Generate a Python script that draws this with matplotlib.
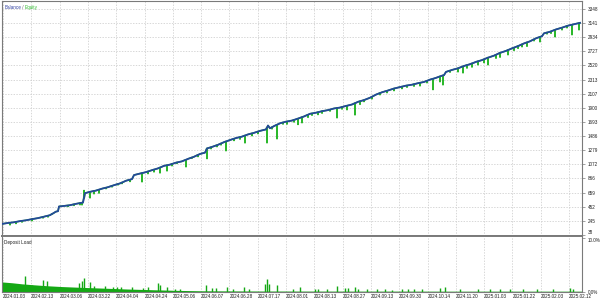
import numpy as np
import matplotlib
matplotlib.use("Agg")
import matplotlib.pyplot as plt

# ---------------- data ----------------
balance_x = [0, 6, 12, 18, 24, 30, 36, 42, 48, 54, 56, 57, 62, 68, 74, 80, 81, 83, 88, 94,
             100, 106, 112, 118, 124, 130, 132, 138, 144, 150, 156, 162, 168, 174, 180, 186,
             192, 198, 203, 205, 210, 216, 222, 228, 234, 240, 246, 252, 258, 264, 266, 268,
             272, 278, 284, 290, 296, 302, 308, 314, 320, 326, 332, 338, 344, 350, 356, 362,
             368, 374, 380, 386, 392, 398, 404, 410, 416, 422, 428, 434, 440, 442, 444, 450,
             456, 462, 468, 474, 480, 486, 492, 498, 504, 510, 516, 522, 528, 534, 540, 542,
             548, 554, 560, 566, 572, 578]
balance = [200, 214, 224, 241, 253, 270, 285, 306, 328, 380, 386, 455, 463, 474, 494, 510, 513,
           650, 670, 688, 716, 738, 767, 793, 832, 856, 915, 937, 958, 987, 1013, 1050, 1068,
           1097, 1116, 1152, 1183, 1224, 1243, 1305, 1327, 1358, 1397, 1428, 1457, 1478, 1510,
           1533, 1562, 1583, 1640, 1600, 1632, 1673, 1697, 1713, 1742, 1773, 1812, 1828, 1850,
           1866, 1890, 1903, 1927, 1948, 1987, 2013, 2047, 2093, 2127, 2153, 2182, 2203, 2224,
           2238, 2260, 2278, 2312, 2338, 2370, 2378, 2425, 2454, 2478, 2512, 2538, 2572, 2598,
           2634, 2663, 2704, 2733, 2770, 2803, 2842, 2873, 2917, 2948, 2990, 3013, 3047, 3073,
           3102, 3123, 3143]

# equity lows (trade index, equity value)
equity_dip_x = [8, 14, 20, 30, 41, 46, 50, 66, 72, 78, 80, 82, 88, 92, 97, 104, 110, 116, 120,
                128, 140, 146, 152, 158, 165, 170, 175, 184, 190, 196, 205, 209, 215, 219, 224,
                232, 238, 243, 250, 256, 265, 270, 275, 281, 285, 292, 296, 300, 306, 310, 316,
                320, 328, 335, 340, 345, 353, 358, 362, 370, 378, 385, 392, 400, 405, 412, 418,
                425, 431, 438, 441, 448, 456, 461, 465, 470, 476, 482, 486, 494, 498, 506, 512,
                516, 520, 525, 532, 538, 545, 549, 553, 560, 565, 570, 577]
equity_dip = [185, 205, 225, 245, 285, 300, 340, 455, 470, 480, 478, 690, 580, 640, 650, 715,
              740, 770, 790, 820, 815, 935, 960, 945, 975, 1050, 1085, 1035, 1160, 1185, 1155,
              1300, 1330, 1355, 1270, 1420, 1440, 1385, 1490, 1520, 1386, 1590, 1445, 1660,
              1660, 1690, 1655, 1680, 1760, 1790, 1800, 1820, 1850, 1752, 1880, 1870, 1795,
              1950, 1990, 2030, 2090, 2120, 2150, 2180, 2200, 2215, 2220, 2265, 2165, 2280,
              2235, 2420, 2425, 2410, 2480, 2495, 2528, 2560, 2528, 2625, 2640, 2675, 2740,
              2770, 2792, 2800, 2880, 2865, 2980, 2990, 2938, 3040, 3070, 2968, 3040]

# deposit load (%) base level and spikes
load_x = [0, 10, 20, 30, 45, 60, 80, 100, 125, 150, 175, 200, 230, 260, 300, 350, 400, 450,
          500, 550, 580]
load_base = [1.85, 1.7, 1.5, 1.35, 1.15, 1.0, 0.85, 0.72, 0.55, 0.42, 0.3, 0.22, 0.2, 0.18,
             0.17, 0.16, 0.16, 0.15, 0.15, 0.15, 0.15]
spike_x = [23, 30, 41, 45, 77, 80, 82, 88, 92, 103, 111, 115, 119, 130, 141, 146, 156, 158,
           165, 173, 178, 204, 210, 214, 225, 231, 242, 247, 263, 265, 267, 275, 291, 298,
           313, 316, 325, 335, 343, 346, 353, 356, 365, 375, 383, 390, 400, 406, 412, 420,
           438, 443, 458, 476, 488, 498, 508, 521, 535, 551, 568, 571]
spike = [3.0, 1.2, 2.2, 2.0, 1.6, 2.0, 2.5, 1.9, 1.1, 1.1, 0.95, 0.95, 0.95, 0.9, 0.8, 0.85,
         1.6, 1.2, 1.0, 0.6, 0.5, 1.3, 0.8, 0.7, 1.0, 0.5, 1.0, 0.6, 1.4, 2.3, 1.5, 1.2,
         0.5, 1.0, 0.5, 0.5, 0.5, 1.1, 0.7, 0.8, 1.0, 0.6, 0.5, 0.5, 0.6, 0.4, 0.5, 0.5,
         0.5, 0.5, 0.8, 0.9, 0.5, 0.6, 0.5, 0.5, 0.5, 0.5, 0.5, 0.5, 0.8, 0.5]

y_ticks = [38, 245, 452, 659, 866, 1072, 1279, 1486, 1693, 1900, 2107, 2313, 2520, 2727,
           2934, 3141, 3348]
date_labels = ["2024.01.03", "2024.02.13", "2024.03.06", "2024.03.22", "2024.04.04",
               "2024.04.24", "2024.05.06", "2024.06.07", "2024.06.28", "2024.07.17",
               "2024.08.01", "2024.08.13", "2024.08.27", "2024.09.13", "2024.09.30",
               "2024.10.14", "2024.11.20", "2025.01.03", "2025.01.22", "2025.02.03",
               "2025.02.12"]

# ---------------- build equity path ----------------
bx = np.array(balance_x, float)
by = np.array(balance, float)
ex = list(bx)
ey = list(by)
for x, v in zip(equity_dip_x, equity_dip):
    b = np.interp(x, bx, by)
    ex += [x - 0.3, x, x + 0.3]
    ey += [b, min(v, b) if x != 82 else v, b]
order = np.argsort(ex, kind="stable")
ex = np.array(ex)[order]
ey = np.array(ey)[order]

# ---------------- figure ----------------
W, H = 600, 303
fig = plt.figure(figsize=(W / 100, H / 100), dpi=100)
fig.patch.set_facecolor("white")

FONT = dict(family="Liberation Sans", size=3.3, color="#202020")
grid_kw = dict(color="#c8c8c8", lw=0.5, ls=(0, (2, 2)))
border = "#7a7a7a"

def px_rect(x0, y0, x1, y1):
    return [x0 / W, 1 - y1 / H, (x1 - x0) / W, (y1 - y0) / H]

ax = fig.add_axes(px_rect(2, 1, 582, 236))
axl = fig.add_axes(px_rect(2, 236, 582, 292))

xticks = [1 + 28.3 * i for i in range(len(date_labels))]
XMAX = 580

# main panel
ax.set_xlim(0, XMAX)
ax.set_ylim(23, 3463)
for t in y_ticks:
    ax.axhline(t, **grid_kw, zorder=0)
for t in xticks:
    ax.axvline(t, **grid_kw, zorder=0)
ax.plot(ex, ey, color="#2cb82c", lw=1.1, zorder=2)
ax.plot(bx, by, color="#24489a", lw=1.3, zorder=3, solid_joinstyle="round")
ax.yaxis.tick_right()
ax.set_yticks(y_ticks)
ax.set_yticklabels([str(t) for t in y_ticks], fontdict=FONT)
ax.get_yticklabels()[0].set_va("bottom")
ax.tick_params(axis="y", length=2, width=0.5, color=border, pad=2)
ax.set_xticks([])
for s in ax.spines.values():
    s.set_color(border)
    s.set_linewidth(0.8)
ax.spines["bottom"].set_linewidth(1.4)
t1 = ax.text(0.004, 0.985, "Balance", transform=ax.transAxes, ha="left", va="top",
             fontdict=dict(FONT, color="#2f3f9f"))
t2 = ax.annotate(" / ", xy=(1, 0), xycoords=t1, ha="left", va="bottom",
                 fontfamily="Liberation Sans", fontsize=3.3, color="#606060")
ax.annotate("Equity", xy=(1, 0), xycoords=t2, ha="left", va="bottom",
            fontfamily="Liberation Sans", fontsize=3.3, color="#2cb82c")

# deposit load panel
axl.set_xlim(0, XMAX)
axl.set_ylim(0, 10.3)
for t in xticks:
    axl.axvline(t, **grid_kw, zorder=0)
axl.fill_between(load_x, 0, load_base, color="#14a814", lw=0, zorder=2)
axl.vlines(spike_x, 0, spike, color="#14a814", lw=1.0, zorder=2)
axl.yaxis.tick_right()
axl.set_yticks([0, 10])
axl.set_yticklabels(["0.0%", "10.0%"], fontdict=FONT)
axl.get_yticklabels()[1].set_va("top")
axl.tick_params(axis="y", length=2, width=0.5, color=border, pad=2)
axl.set_xticks(xticks)
axl.set_xticklabels(date_labels, fontdict=FONT, ha="left")
axl.tick_params(axis="x", length=0, pad=1.5)
for s in axl.spines.values():
    s.set_color(border)
    s.set_linewidth(0.8)
axl.spines["top"].set_linewidth(1.4)
axl.text(0.004, 0.93, "Deposit Load", transform=axl.transAxes, ha="left", va="top",
         fontdict=FONT)

fig.savefig("out.png", dpi=100, facecolor="white")
